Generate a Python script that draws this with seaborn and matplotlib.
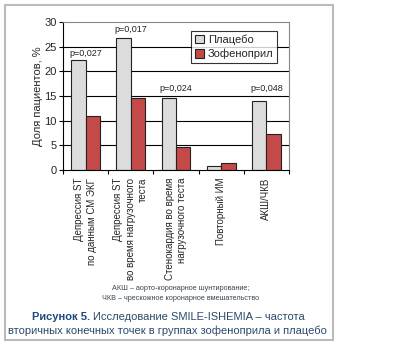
import matplotlib
matplotlib.use("Agg")
import matplotlib.pyplot as plt
import seaborn as sns
import pandas as pd
from matplotlib.patches import Rectangle

categories = ["Депрессия ST\nпо данным СМ ЭКГ",
              "Депрессия ST\nво время нагрузочного\nтеста",
              "Стенокардия во время\nнагрузочного теста",
              "Повторный ИМ",
              "АКШ/ЧКВ"]
series = ["Плацебо", "Зофеноприл"]
placebo = [22.2, 26.8, 14.5, 0.9, 14.0]
zofenopril = [10.9, 14.5, 4.7, 1.4, 7.3]
p_values = ["p=0,027", "p=0,017", "p=0,024", "", "p=0,048"]
p_label_y = [23.7, 28.4, 16.6, None, 16.6]
yticks = [0, 5, 10, 15, 20, 25, 30]

df = pd.DataFrame({
    "cat": categories * 2,
    "group": [series[0]] * 5 + [series[1]] * 5,
    "val": placebo + zofenopril,
})

sns.set_theme(style="white")
plt.rcParams['font.family'] = ['Liberation Sans', 'DejaVu Sans']

fig = plt.figure(figsize=(4.1, 3.46), dpi=100)
# outer frame
fig.patches.append(Rectangle((5/410, 1-340/346), 328/410, 335/346, transform=fig.transFigure,
                             fill=False, edgecolor="#bbbbbb", linewidth=1.5))

ax = fig.add_axes([63/410, 1-170/346, 226/410, 148/346])
sns.barplot(data=df, x="cat", y="val", hue="group", order=categories, hue_order=series,
            palette={series[0]: "#dcdcdc", series[1]: "#c44a4a"}, width=0.64,
            edgecolor="#222222", linewidth=0.8, ax=ax, saturation=1)
ax.set_ylim(0, 30)
ax.set_xlim(-0.5, 4.5)
ax.set_yticks(yticks)
for y in yticks[1:-1]:
    ax.axhline(y, color="black", linewidth=0.8, zorder=0)
ax.set_axisbelow(True)
for s in ["left", "bottom"]:
    ax.spines[s].set_color("black")
    ax.spines[s].set_linewidth(0.8)
for s in ["top", "right"]:
    ax.spines[s].set_color("#888888")
    ax.spines[s].set_linewidth(0.8)
ax.tick_params(axis="y", left=True, length=3, width=0.8, labelsize=8, pad=1.5, color="black")
ax.set_xticks(range(len(categories)))
ax.set_xticklabels(categories, rotation=90, fontsize=7, ha="center", va="top",
                   multialignment="right", linespacing=1.3)
ax.tick_params(axis="x", which="major", bottom=True, length=0, pad=5.5)
ax.set_xticks([i + 0.5 for i in range(-1, 5)], minor=True)
ax.tick_params(axis="x", which="minor", bottom=True, length=3, width=0.8, color="black")
ax.set_xlabel("")
ax.set_ylabel("Доля пациентов, %", fontsize=8, labelpad=1)

for i, p in enumerate(p_values):
    if p:
        ax.text(i, p_label_y[i], p, ha="center", va="center", fontsize=6.5, color="#222222")

leg = ax.legend(loc="upper right", bbox_to_anchor=(0.947, 0.939), borderaxespad=0,
                fontsize=8, frameon=True,
                fancybox=False, edgecolor="black", borderpad=0.3, labelspacing=0.35,
                handlelength=0.8, handleheight=0.8, handletextpad=0.4)
leg.get_frame().set_linewidth(0.8)

cap_color = "#3b4653"
fig.text(181/410, 1-288/346, "АКШ – аорто-коронарное шунтирование;", ha="center", va="center",
         fontsize=5.2, color=cap_color)
fig.text(181/410, 1-298/346, "ЧКВ – чрескожное коронарное вмешательство", ha="center", va="center",
         fontsize=5.2, color=cap_color)

# title with bold prefix
fig.canvas.draw()
r = fig.canvas.get_renderer()
t1 = fig.text(0, 1-317/346, "Рисунок 5. ", fontsize=8, fontweight="bold", color="#1e4a78",
              va="center", ha="left")
t2 = fig.text(0, 1-317/346, "Исследование SMILE-ISHEMIA – частота", fontsize=8,
              color="#2a4a6a", va="center", ha="left")
w1 = t1.get_window_extent(r).width
w2 = t2.get_window_extent(r).width
W = fig.bbox.width
x0 = 168 - (w1 + w2) / 2
t1.set_x(x0 / W)
t2.set_x((x0 + w1) / W)
fig.text(167/410, 1-331/346, "вторичных конечных точек в группах зофеноприла и плацебо",
         ha="center", va="center", fontsize=8, color="#2a4a6a")

fig.savefig("out.png", dpi=100)
